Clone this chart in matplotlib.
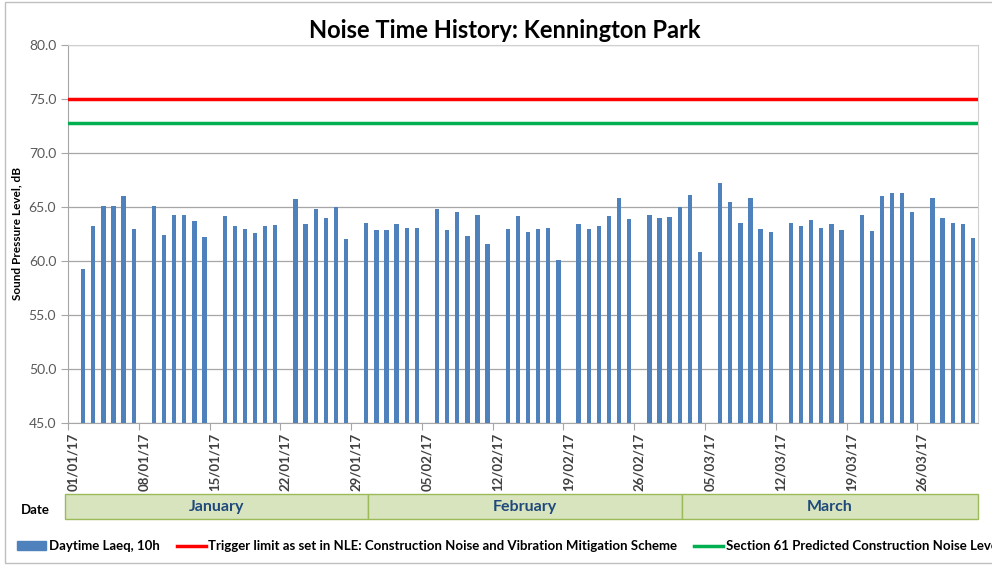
import matplotlib
matplotlib.use("Agg")
import matplotlib.pyplot as plt
from matplotlib.patches import Rectangle
from matplotlib.lines import Line2D
import pandas as pd

# measured days: every day except Sundays, 2 Jan - 31 Mar 2017
all_days = pd.date_range("2017-01-01", "2017-03-31")
dates = all_days[all_days.weekday != 6]

laeq = [59.3, 63.2, 65.1, 65.1, 66.0, 63.0,
        65.1, 62.4, 64.3, 64.3, 63.7, 62.2,
        64.2, 63.2, 63.0, 62.6, 63.2, 63.3,
        65.7, 63.4, 64.8, 64.0, 65.0, 62.0,
        63.5, 62.9, 62.9, 63.4, 63.1, 63.1,
        64.8, 62.9, 64.5, 62.3, 64.3, 61.6,
        63.0, 64.2, 62.7, 63.0, 63.1, 60.1,
        63.4, 63.0, 63.2, 64.2, 65.8, 63.9,
        64.3, 64.0, 64.1, 65.0, 66.1, 60.8,
        67.2, 65.5, 63.5, 65.8, 63.0, 62.7,
        63.5, 63.2, 63.8, 63.1, 63.4, 62.9,
        64.3, 62.8, 66.0, 66.3, 66.3, 64.5,
        65.8, 64.0, 63.5, 63.4, 62.1]

trigger_limit = 75.0
section61_level = 72.8

months = ["January", "February", "March"]
# month cell edges in figure pixels (table under the chart)
month_edges = [65, 368, 682, 978]

series_labels = ["Daytime Laeq, 10h",
                 "Trigger limit as set in NLE: Construction Noise and Vibration Mitigation Scheme",
                 "Section 61 Predicted Construction Noise Level"]

blue = "#4f81bd"
red = "#ff0000"
green = "#00b050"
font = "Lato"

W, H = 992, 566
plt.rcParams["font.family"] = [font, "DejaVu Sans"]
fig = plt.figure(figsize=(W / 100, H / 100), dpi=100)

ax = fig.add_axes([68 / W, 1 - 423 / H, (978 - 68) / W, (423 - 45) / H])

ax.bar(dates, laeq, width=0.42, color=blue, zorder=3)
ax.axhline(trigger_limit, color=red, lw=2.5, zorder=4)
ax.axhline(section61_level, color=green, lw=2.5, zorder=4)

ax.set_ylim(45, 80)
ax.set_yticks(range(45, 81, 5))
ax.set_yticklabels([f"{v:.1f}" for v in range(45, 81, 5)], color="#595959", fontsize=10)
ax.grid(axis="y", color="#a6a6a6", lw=0.9, zorder=0)

x0 = all_days[0] - pd.Timedelta(hours=12)
x1 = all_days[-1] + pd.Timedelta(hours=12)
ax.set_xlim(x0, x1)
label_days = all_days[::7]
ax.set_xticks(label_days, [d.strftime("%d/%m/%y") for d in label_days], minor=True)
ax.set_xticks([d - pd.Timedelta(hours=12) for d in label_days], [])
ax.tick_params(axis="x", which="minor", length=0, pad=7, labelrotation=90,
               labelsize=9.5, labelcolor="#404040")
ax.tick_params(axis="x", which="major", length=5, color="#a6a6a6")
ax.tick_params(axis="y", length=5, color="#a6a6a6")

for s in ["left", "bottom"]:
    ax.spines[s].set_color("#a6a6a6")
for s in ["top", "right"]:
    ax.spines[s].set_color("#d0d0d0")

ax.set_ylabel("Sound Pressure Level, dB", fontsize=8.5, fontweight="bold")
ax.yaxis.set_label_coords(-0.05, 0.5)

fig.text(505 / W, 1 - 31 / H, "Noise Time History: Kennington Park",
         ha="center", va="center", fontsize=17, fontweight="bold")

# month table under the date axis
for name, a, b in zip(months, month_edges[:-1], month_edges[1:]):
    fig.patches.append(Rectangle((a / W, 1 - 519 / H), (b - a) / W, 25 / H,
                                 transform=fig.transFigure, facecolor="#d7e4bd",
                                 edgecolor="#9bbb59", lw=1))
    fig.text((a + b) / 2 / W, 1 - 507 / H, name, ha="center", va="center",
             fontsize=11.5, fontweight="bold", color="#1f497d")
fig.text(35 / W, 1 - 510 / H, "Date", ha="center", va="center",
         fontsize=9.5, fontweight="bold")

handles = [Rectangle((0, 0), 1, 1, color=blue),
           Line2D([], [], color=red, lw=2.5),
           Line2D([], [], color=green, lw=2.5)]
fig.legend(handles, series_labels, loc="center left", bbox_to_anchor=(17 / W, 1 - 546 / H),
           ncol=3, frameon=False, handlelength=2.2, handleheight=0.6, handletextpad=0.2,
           columnspacing=1.3, borderaxespad=0, borderpad=0,
           prop={"family": font, "size": 9.5, "weight": "bold"})

# outer chart border
fig.patches.append(Rectangle((5 / W, 3 / H), 1.2, 1 - 5 / H, transform=fig.transFigure,
                             fill=False, edgecolor="#bfbfbf", lw=1))

fig.canvas.draw()
plt.setp(ax.get_xticklabels(minor=True), fontweight="bold")

fig.savefig("out.png", dpi=100)
